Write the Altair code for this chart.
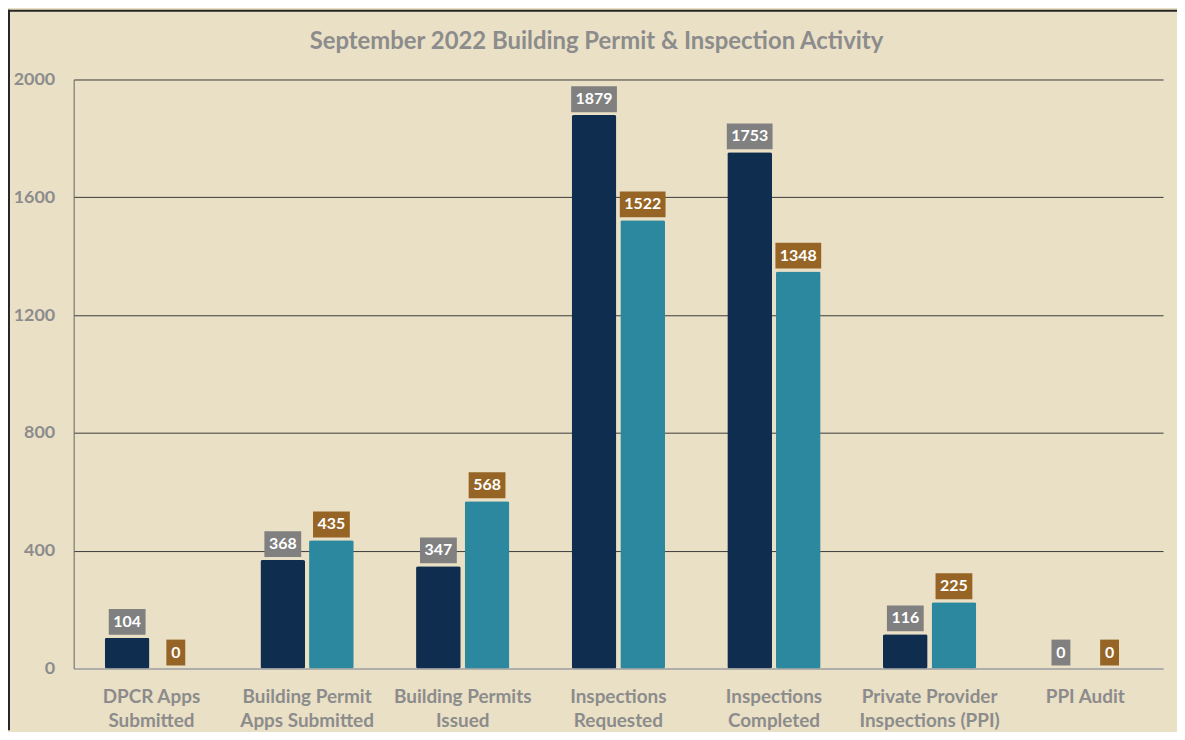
import altair as alt
import pandas as pd

categories = [
    "DPCR Apps\nSubmitted",
    "Building Permit\nApps Submitted",
    "Building Permits\nIssued",
    "Inspections\nRequested",
    "Inspections\nCompleted",
    "Private Provider\nInspections (PPI)",
    "PPI Audit",
]
series_names = ["Series 1", "Series 2"]
series1 = [104, 368, 347, 1879, 1753, 116, 0]
series2 = [0, 435, 568, 1522, 1348, 225, 0]
y_ticks = [0, 400, 800, 1200, 1600, 2000]

rows = []
for c, a, b in zip(categories, series1, series2):
    rows.append({"category": c, "series": series_names[0], "value": a})
    rows.append({"category": c, "series": series_names[1], "value": b})
df = pd.DataFrame(rows)

bar_colors = ["#0E2D4F", "#2B889F"]
box_colors = ["#808080", "#966526"]
FONT = "Lato"
GRAY = "#8C8C8C"

x = alt.X(
    "category:N", sort=categories, title=None,
    scale=alt.Scale(paddingInner=0.4, paddingOuter=0.2),
    axis=alt.Axis(
        labelExpr="split(datum.label, '\\n')", labelAngle=0, labelFontSize=19,
        labelFont=FONT, labelFontWeight="bold", labelColor=GRAY, labelPadding=19,
        labelLineHeight=24, ticks=False, domainColor="#A6A6A6", domainWidth=1.5,
    ),
)
xo = alt.XOffset("series:N", sort=series_names,
                 scale=alt.Scale(paddingInner=0.08, paddingOuter=0))
y = alt.Y(
    "value:Q", title=None, scale=alt.Scale(domain=[0, 2000], nice=False),
    axis=alt.Axis(
        values=y_ticks, format="d", labelFont=FONT, labelFontSize=18, labelFontWeight="bold",
        labelColor=GRAY, labelPadding=19, ticks=False, domainColor="#666666",
        gridColor={"condition": {"test": "datum.value === 0", "value": "#A6A6A6"}, "value": "#3A3A3A"},
        gridWidth=1,
    ),
)

bars = alt.Chart(df).mark_bar(cornerRadius=2).encode(
    x=x, xOffset=xo, y=y,
    color=alt.Color("series:N", scale=alt.Scale(domain=series_names, range=bar_colors), legend=None),
)

boxes = alt.Chart(df).transform_calculate(
    boxw="length(toString(datum.value)) * 9 + 10"
).mark_bar(yOffset=-3, y2Offset=-29).encode(
    x=x, xOffset=xo, y=y, y2=alt.Y2("value:Q"),
    size=alt.Size("boxw:Q", scale=None),
    fill=alt.Fill("series:N", scale=alt.Scale(domain=series_names, range=box_colors), legend=None),
)

labels = alt.Chart(df).mark_text(
    dy=-16, baseline="middle", font=FONT, fontWeight="bold", fontSize=16, color="white"
).encode(x=x, xOffset=xo, y=y, text="value:Q")

border_df = pd.DataFrame({"k": [0]})
left_border = alt.Chart(border_df).mark_rule(color="#262626", strokeWidth=2).encode(
    x=alt.value(-65), y=alt.value(-70), y2=alt.value(654)
)
top_border = alt.Chart(border_df).mark_rule(color="#262626", strokeWidth=2).encode(
    x=alt.value(-66), x2=alt.value(1110), y=alt.value(-69)
)

chart = alt.layer(bars, boxes, labels, left_border, top_border).resolve_scale(
    color="independent"
).properties(
    width=1095, height=592,
    title=alt.TitleParams(
        "September 2022 Building Permit & Inspection Activity", font=FONT, fontSize=24,
        fontWeight="bold", color=GRAY, anchor="middle", dx=-22, offset=-45,
    ),
    autosize=alt.AutoSizeParams(type="none"),
    padding={"left": 66, "top": 70, "right": 14, "bottom": 62},
    background="#EAE0C6",
).configure_view(stroke=None)

chart.save("out.html", embed_options={"renderer": "svg", "actions": False})
